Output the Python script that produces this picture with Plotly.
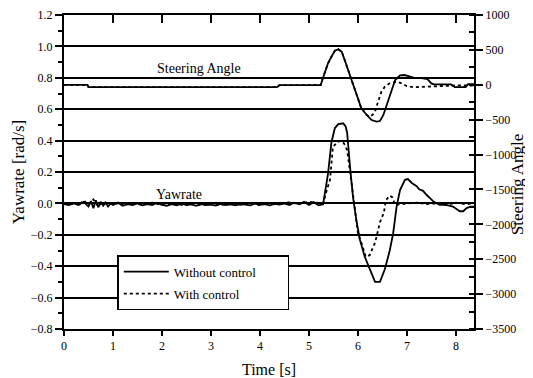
import plotly.graph_objects as go

# ---------------- data ----------------
# Yaw rate [rad/s], without control (solid)
t_yaw_wo = [0, 0.1, 0.2, 0.3, 0.4, 0.5, 0.55, 0.6, 0.65, 0.7, 0.75, 0.8, 0.85, 0.9, 0.95,
            1.0, 1.1, 1.2, 1.3, 1.4, 1.5, 1.6, 1.7, 1.8, 1.9, 2.0, 2.1, 2.2, 2.3, 2.4,
            2.5, 2.6, 2.7, 2.8, 2.9, 3.0, 3.1, 3.2, 3.3, 3.4, 3.5, 3.6, 3.7, 3.8, 3.9,
            4.0, 4.1, 4.2, 4.3, 4.4, 4.5, 4.6, 4.7, 4.8, 4.9, 5.0, 5.1, 5.2, 5.29, 5.34,
            5.39, 5.46, 5.53, 5.6, 5.7, 5.75, 5.78, 5.84, 5.9, 5.97, 6.04, 6.14, 6.24,
            6.35, 6.45, 6.55, 6.65, 6.72, 6.79, 6.86, 6.96, 7.02, 7.1, 7.2, 7.25, 7.33,
            7.4, 7.47, 7.55, 7.67, 7.8, 7.94, 8.0, 8.08, 8.15, 8.22, 8.3, 8.37]
yaw_wo = [-0.005, -0.01, 0.0, -0.01, 0.01, -0.02, 0.015, -0.03, 0.02, -0.025, 0.01, -0.015,
          0.005, -0.02, 0.0, -0.01, 0.005, -0.015, -0.005, -0.01, 0.0, -0.012, -0.004, -0.01,
          0.003, -0.01, -0.015, -0.005, -0.012, -0.002, -0.01, -0.006, -0.015, -0.004, -0.01,
          -0.008, -0.014, -0.003, -0.01, -0.006, -0.012, -0.004, -0.008, -0.013, -0.002,
          -0.009, -0.005, -0.012, -0.003, -0.008, 0.0, -0.01, 0.005, -0.006, 0.01, -0.01,
          0.008, -0.012, -0.005, 0.10, 0.19, 0.39, 0.48, 0.505, 0.51, 0.49, 0.45, 0.23, 0.04,
          -0.11, -0.23, -0.34, -0.42, -0.50, -0.50, -0.42, -0.30, -0.19, -0.02, 0.085, 0.15,
          0.155, 0.13, 0.11, 0.09, 0.08, 0.055, 0.035, 0.01, -0.01, -0.01, -0.02, -0.035,
          -0.05, -0.05, -0.03, -0.02, -0.02]

# Yaw rate [rad/s], with control (dotted)
t_yaw_w = [0, 0.1, 0.2, 0.3, 0.4, 0.5, 0.6, 0.7, 0.8, 0.9, 1.0, 1.2, 1.4, 1.6, 1.8, 2.0,
           2.2, 2.4, 2.6, 2.8, 3.0, 3.2, 3.4, 3.6, 3.8, 4.0, 4.2, 4.4, 4.6, 4.8, 5.0, 5.2,
           5.29, 5.36, 5.43, 5.49, 5.58, 5.66, 5.72, 5.78, 5.82, 5.87, 5.94, 6.0, 6.07,
           6.16, 6.24, 6.3, 6.35, 6.39, 6.45, 6.53, 6.57, 6.65, 6.7, 6.76, 6.85, 7.0, 7.2,
           7.4, 7.6, 7.8, 8.0, 8.2, 8.37]
yaw_w = [0.0, -0.008, 0.005, -0.012, 0.02, -0.01, 0.025, -0.02, 0.012, -0.01, 0.005, -0.01,
         0.0, -0.008, 0.004, -0.01, -0.003, -0.009, 0.002, -0.01, -0.004, -0.01, 0.0, -0.008,
         -0.002, -0.01, 0.003, -0.006, 0.008, -0.004, 0.01, 0.005, 0.0, 0.08, 0.15, 0.36,
         0.39, 0.40, 0.38, 0.34, 0.23, 0.13, -0.04, -0.19, -0.25, -0.34, -0.33, -0.29, -0.25,
         -0.20, -0.12, -0.06, 0.02, 0.05, 0.04, -0.01, -0.005, 0.0, 0.005, -0.005, 0.0,
         -0.01, 0.005, -0.005, 0.0]

# Steering angle [deg], without control (solid)
t_st_wo = [0, 0.48, 0.5, 1.0, 2.0, 3.0, 4.0, 4.35, 4.4, 5.0, 5.24, 5.33, 5.39, 5.46, 5.53,
           5.6, 5.67, 5.73, 5.8, 5.87, 5.94, 6.01, 6.07, 6.18, 6.28, 6.38, 6.45, 6.52, 6.62,
           6.69, 6.76, 6.86, 6.95, 7.05, 7.15, 7.3, 7.42, 7.5, 7.55, 7.9, 7.98, 8.2, 8.25, 8.37]
st_wo = [0, 0, -35, -35, -35, -35, -35, -35, -5, -5, -3, 187, 308, 403, 489, 509, 474, 355,
         212, 68, -99, -218, -337, -433, -505, -529, -520, -433, -218, -50, 68, 135, 140,
         120, 100, 95, 80, 20, 5, 5, -35, -35, 10, 10]

# Steering angle [deg], with control (dotted)
t_st_w = [0, 0.48, 0.5, 1.0, 2.0, 3.0, 4.0, 4.35, 4.4, 5.0, 5.24, 5.33, 5.39, 5.46, 5.53,
          5.6, 5.67, 5.73, 5.8, 5.87, 5.94, 6.01, 6.07, 6.18, 6.24, 6.3, 6.35, 6.39, 6.44,
          6.48, 6.55, 6.65, 6.79, 6.89, 6.99, 7.13, 7.3, 7.6, 8.0, 8.37]
st_w = [0, 0, -35, -35, -35, -35, -35, -35, -5, -5, -3, 187, 308, 403, 489, 509, 474, 355,
        212, 68, -99, -218, -337, -433, -457, -430, -386, -290, -171, -99, -27, 21, 44, 21,
        -17, -36, -30, -20, -10, -10]

x_ticks = [0, 1, 2, 3, 4, 5, 6, 7, 8]
yaw_ticks = [-0.8, -0.6, -0.4, -0.2, 0.0, 0.2, 0.4, 0.6, 0.8, 1.0, 1.2]
st_ticks = [-3500, -3000, -2500, -2000, -1500, -1000, -500, 0, 500, 1000]

FONT = "Liberation Serif"
TICKF = dict(family=FONT, size=12, color="black")
TITLEF = dict(family=FONT, size=16, color="black")

fig = go.Figure()
fig.add_trace(go.Scatter(x=t_yaw_wo, y=yaw_wo, mode="lines",
                         line=dict(color="black", width=1.8),
                         name="Without control\u00a0\u00a0\u00a0\u00a0\u00a0\u00a0\u00a0\u00a0",
                         legendgroup="a"))
fig.add_trace(go.Scatter(x=t_yaw_w, y=yaw_w, mode="lines",
                         line=dict(color="black", width=1.8, dash="3px,3px"),
                         name="With control", legendgroup="b"))
fig.add_trace(go.Scatter(x=t_st_wo, y=st_wo, mode="lines", xaxis="x2", yaxis="y2",
                         line=dict(color="black", width=1.8), showlegend=False))
fig.add_trace(go.Scatter(x=t_st_w, y=st_w, mode="lines", xaxis="x2", yaxis="y2",
                         line=dict(color="black", width=1.8, dash="3px,3px"),
                         showlegend=False))

# the page body adds an 8px offset, so the figure is sized to fit the window
fig.update_layout(
    width=525, height=370,
    margin=dict(l=56, r=59, t=7, b=49, autoexpand=False),
    paper_bgcolor="white", plot_bgcolor="white",
    font=dict(family=FONT, size=13, color="black"),
    showlegend=True,
    legend=dict(x=0.13, y=0.235, xanchor="left", yanchor="top",
                bgcolor="white", bordercolor="black", borderwidth=1.5,
                font=dict(family=FONT, size=13, color="black"), tracegroupgap=2,
                itemwidth=45),
    xaxis=dict(range=[0, 8.37], tickvals=x_ticks, ticks="outside", ticklen=5,
               tickwidth=1.5, tickcolor="black", showline=True, linewidth=2,
               linecolor="black", showgrid=False, zeroline=False, automargin=False,
               ticklabeloverflow="allow",
               title=dict(text="Time [s]", font=TITLEF, standoff=17),
               tickfont=TICKF),
    xaxis2=dict(range=[0, 8.37], overlaying="x", side="top", anchor="y2",
                tickvals=x_ticks, ticks="inside", ticklen=8, tickwidth=1.5,
                tickcolor="black", showticklabels=False, showline=True,
                linewidth=2, linecolor="black", showgrid=False, zeroline=False,
                automargin=False),
    yaxis=dict(range=[-0.8, 1.2], tickvals=yaw_ticks, tickformat=".1f",
               ticks="outside", ticklen=7, tickwidth=1.5, tickcolor="black",
               minor=dict(dtick=0.1, tick0=0, ticks="outside", ticklen=4,
                          tickwidth=1.5, tickcolor="black", showgrid=False),
               showline=True, linewidth=2, linecolor="black",
               showgrid=True, gridcolor="black", gridwidth=1.5, zeroline=False,
               automargin=False, ticklabeloverflow="allow",
               title=dict(text="Yawrate [rad/s]",
                          font=dict(family=FONT, size=17, color="black"), standoff=2),
               tickfont=TICKF),
    yaxis2=dict(range=[-3500, 1000], overlaying="y", side="right", anchor="x2",
                tickvals=st_ticks, ticks="outside", ticklen=7, tickwidth=1.5,
                tickcolor="black",
                minor=dict(dtick=250, tick0=0, ticks="inside", ticklen=5,
                           tickwidth=1.5, tickcolor="black", showgrid=False),
                showline=True, linewidth=2, linecolor="black", showgrid=False,
                zeroline=False, automargin=False, ticklabeloverflow="allow",
                tickfont=TICKF),
    annotations=[
        dict(text="Steering Angle", x=2.75, y=0.862, xref="x", yref="y",
             showarrow=False, font=dict(family=FONT, size=14, color="black")),
        dict(text="Yawrate", x=2.35, y=0.054, xref="x", yref="y",
             showarrow=False, font=dict(family=FONT, size=14, color="black")),
        # right axis title
        dict(text="Steering Angle", x=1.108, y=0.462, xref="paper", yref="paper",
             textangle=-90, showarrow=False, xanchor="center", yanchor="middle",
             font=dict(family=FONT, size=17, color="black")),
    ],
)

fig.write_html("out.html")
